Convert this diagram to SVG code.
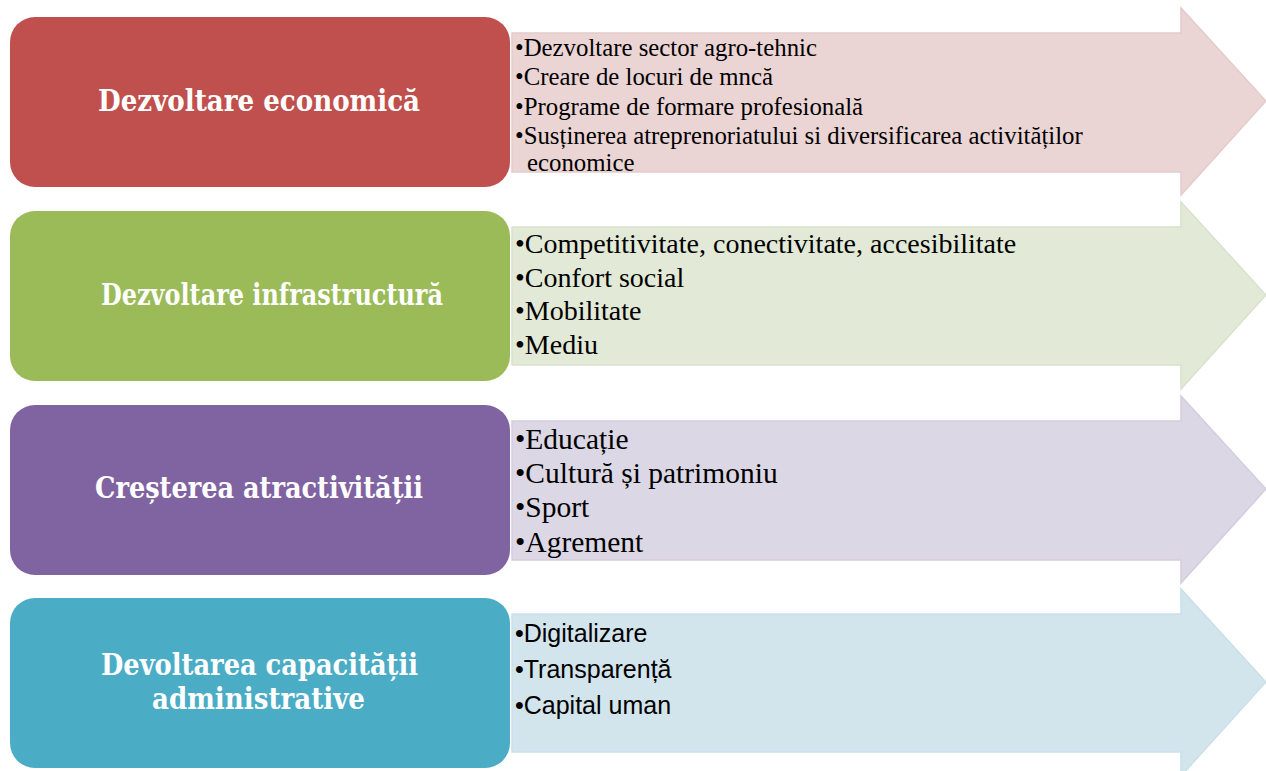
<svg xmlns="http://www.w3.org/2000/svg" width="1266" height="771" viewBox="0 0 1266 771">
<style>
.title{font-family:"DejaVu Serif","Liberation Serif",serif;font-weight:bold;font-size:29.5px;fill:#ffffff}
.ser{font-family:"Liberation Serif","Times New Roman",serif;fill:#000000}
.san{font-family:"Liberation Sans",Arial,sans-serif;fill:#000000;font-size:25px}
.arr{stroke-width:1.5;stroke-linejoin:miter}
</style>
<rect width="1266" height="771" fill="#ffffff"/>
<g id="connectors"></g>
<g id="node-economic">
<path class="arr" d="M512,33 H1181 V8 L1266,101 L1181,195 V172 H512 Z" fill="#EAD4D4" stroke="#E4CBCB"/>
<rect x="10" y="17" width="500" height="170" rx="25" fill="#C0504D"/>
<text class="title" x="98" y="111" textLength="322" lengthAdjust="spacingAndGlyphs">Dezvoltare economică</text>
<g class="ser" font-size="24.8">
<text x="515" y="56">•Dezvoltare sector agro-tehnic</text>
<text x="515" y="85">•Creare de locuri de mncă</text>
<text x="515" y="115">•Programe de formare profesională</text>
<text x="515" y="144">•Susținerea atreprenoriatului si diversificarea activităților</text>
<text x="527" y="171">economice</text>
</g>
</g>
<g id="node-infra">
<path class="arr" d="M512,227 H1181 V202 L1266,295 L1181,389 V365 H512 Z" fill="#E2E9D6" stroke="#D9E2CC"/>
<rect x="10" y="211" width="500" height="170" rx="25" fill="#9BBB59"/>
<text class="title" x="101" y="305" textLength="342" lengthAdjust="spacingAndGlyphs">Dezvoltare infrastructură</text>
<g class="ser" font-size="28">
<text x="515" y="253">•Competitivitate, conectivitate, accesibilitate</text>
<text x="515" y="287">•Confort social</text>
<text x="515" y="320">•Mobilitate</text>
<text x="515" y="354">•Mediu</text>
</g>
</g>
<g id="node-atract">
<path class="arr" d="M512,421 H1181 V396 L1266,489 L1181,583 V560 H512 Z" fill="#DCD7E4" stroke="#D3CDDE"/>
<rect x="10" y="405" width="500" height="170" rx="25" fill="#8064A2"/>
<text class="title" x="95" y="498" textLength="328" lengthAdjust="spacingAndGlyphs">Creșterea atractivității</text>
<g class="ser" font-size="29.5">
<text x="515" y="449">•Educație</text>
<text x="515" y="483">•Cultură și patrimoniu</text>
<text x="515" y="517">•Sport</text>
<text x="515" y="552">•Agrement</text>
</g>
</g>
<g id="node-admin">
<path class="arr" d="M512,614 H1181 V589 L1266,682 L1181,776 V752 H512 Z" fill="#D3E5EC" stroke="#CADFE7"/>
<rect x="10" y="598" width="500" height="170" rx="25" fill="#4BACC6"/>
<text class="title" x="101" y="675" textLength="317" lengthAdjust="spacingAndGlyphs">Devoltarea capacității</text>
<text class="title" x="152" y="709" textLength="213" lengthAdjust="spacingAndGlyphs">administrative</text>
<g class="san">
<text x="515" y="642">•Digitalizare</text>
<text x="515" y="678">•Transparență</text>
<text x="515" y="714">•Capital uman</text>
</g>
</g>
</svg>
